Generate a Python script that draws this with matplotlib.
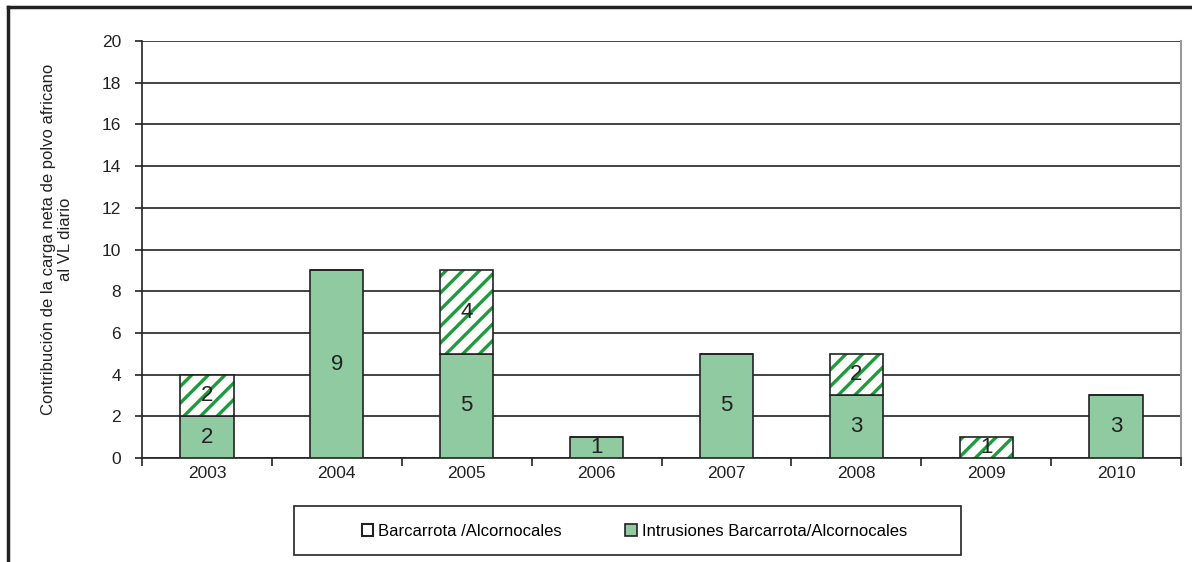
import numpy as np
import matplotlib
matplotlib.use('Agg')
import matplotlib.pyplot as plt
from matplotlib.lines import Line2D
from matplotlib.patches import Rectangle

plt.rcParams['font.family'] = ['Liberation Sans', 'DejaVu Sans']
plt.rcParams['hatch.linewidth'] = 2.4

# Datos
anios = ['2003', '2004', '2005', '2006', '2007', '2008', '2009', '2010']
intrusiones = [2, 9, 5, 1, 5, 3, 0, 3]
barcarrota = [2, 0, 4, 0, 0, 2, 1, 0]

W, H = 1192, 562
fig = plt.figure(figsize=(W / 100, H / 100), dpi=100)
ax = fig.add_axes([142 / W, 1 - 458 / H, (1181 - 142) / W, (458 - 41) / H])

verde = '#8fcaa0'
verde_rayas = '#1f9a3e'
borde = '#222222'

x = np.arange(len(anios))
ancho = 0.41
b1 = ax.bar(x, intrusiones, ancho, color=verde, edgecolor=borde, linewidth=1.2,
            label='Intrusiones Barcarrota/Alcornocales', zorder=3)
# rayas verdes (el hatch toma el color del borde)
ax.bar(x, barcarrota, ancho, bottom=intrusiones, color='white', edgecolor=verde_rayas,
       linewidth=0, hatch='//', zorder=3)
ax.bar(x, barcarrota, ancho, bottom=intrusiones, fill=False, edgecolor=borde,
       linewidth=1.2, zorder=3)

# Etiquetas de valores
for i in range(len(anios)):
    if intrusiones[i] > 0:
        ax.text(x[i], intrusiones[i] / 2, str(intrusiones[i]), ha='center', va='center',
                fontsize=16, color=borde, zorder=4)
    if barcarrota[i] > 0:
        ax.text(x[i], intrusiones[i] + barcarrota[i] / 2, str(barcarrota[i]), ha='center',
                va='center', fontsize=16, color=borde, zorder=4)

ax.set_xlim(-0.5, len(anios) - 0.5)
ax.set_ylim(0, 20)
ax.set_yticks(range(0, 21, 2))
ax.set_xticks(x)
ax.set_xticklabels(anios)
ax.set_xticks(np.arange(-0.5, len(anios), 1), minor=True)
ax.tick_params(axis='x', which='major', length=0, pad=6, labelsize=12.5, labelcolor=borde)
ax.tick_params(axis='x', which='minor', length=6, width=1.2, direction='out', color=borde)
ax.tick_params(axis='y', length=5, width=1.2, labelsize=12.5, pad=10, color=borde,
               labelcolor=borde)
ax.yaxis.grid(True, color=borde, linewidth=1.2, zorder=0)
ax.set_axisbelow(True)

ax.spines['top'].set_visible(False)
ax.spines['right'].set_color('#999999')
ax.spines['right'].set_linewidth(1.5)
for s in ['left', 'bottom']:
    ax.spines[s].set_color(borde)
    ax.spines[s].set_linewidth(1.2)

ax.set_ylabel('Contribución de la carga neta de polvo africano\nal VL diario', fontsize=12,
              color=borde)
ax.yaxis.set_label_coords(-0.066, 0.525)

# Leyenda: marco dibujado aparte
fig.add_artist(Rectangle((294 / W, 1 - 555 / H), (961 - 294) / W, (555 - 506) / H,
                         transform=fig.transFigure, fill=False, edgecolor=borde,
                         linewidth=1.2))
cuadro_blanco = Rectangle((0, 0), 1, 1, facecolor='white', edgecolor=borde, linewidth=1.5)
fig.legend(handles=[cuadro_blanco, b1], labels=['Barcarrota /Alcornocales',
                                                'Intrusiones Barcarrota/Alcornocales'],
           loc='center', bbox_to_anchor=(634.5 / W, 1 - 531 / H),
           ncol=2, frameon=False, fontsize=12,
           handlelength=0.7, handleheight=0.7, handletextpad=0.3, columnspacing=3.8)

# Marco exterior (solo izquierda y arriba visibles)
fig.add_artist(Line2D([8 / W, 8 / W], [0, 1 - 7 / H], transform=fig.transFigure,
                      color=borde, linewidth=2.5))
fig.add_artist(Line2D([8 / W, 1], [1 - 7 / H, 1 - 7 / H], transform=fig.transFigure,
                      color=borde, linewidth=2.5))

fig.savefig('out.png', dpi=100)
